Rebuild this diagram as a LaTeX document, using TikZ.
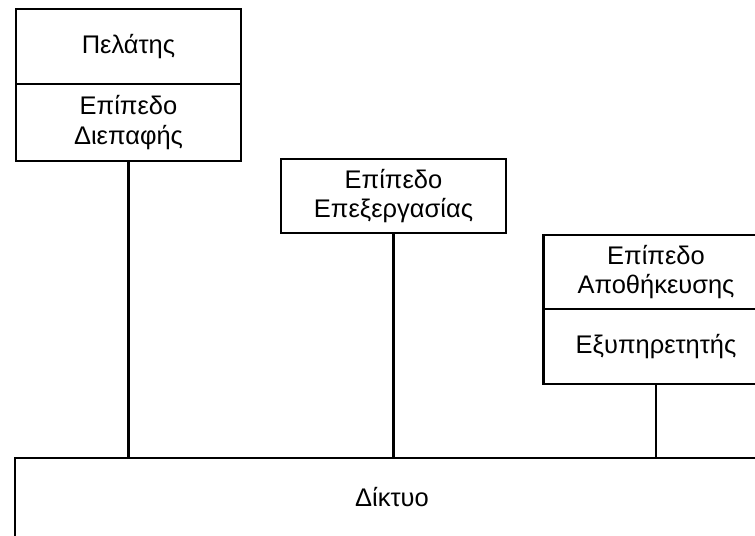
\documentclass[tikz,border=0pt]{standalone}
\usepackage{fontspec}
\setmainfont{Liberation Sans}
\usepackage{tikz}
\usetikzlibrary{positioning}

\begin{document}
\begin{tikzpicture}[
    tierbox/.style={rectangle, draw=black, line width=1.2pt, inner sep=0pt,
                    minimum width=4.5cm, minimum height=1.5cm, align=center,
                    font=\fontsize{14.5}{17}\selectfont},
    link/.style={line width=1.2pt}
]

    \useasboundingbox (0, 0) rectangle (15.1, 10.7);
    \clip (0, 0) rectangle (15.1, 10.7);

    % Client
    \node[tierbox] (client) at (2.57, 9.77) {Πελάτης};
    \node[tierbox, minimum height=1.54cm] (iface) at (2.57, 8.25) {Επίπεδο\\Διεπαφής};

    % Processing
    \node[tierbox, minimum height=1.48cm] (proc) at (7.87, 6.78) {Επίπεδο\\Επεξεργασίας};

    % Storage
    \node[tierbox, minimum height=1.48cm] (store) at (13.12, 5.26) {Επίπεδο\\Αποθήκευσης};
    \node[tierbox] (server) at (13.12, 3.77) {Εξυπηρετητής};

    % Network
    \node[tierbox, draw=none, minimum width=15.04cm, minimum height=1.52cm] (net) at (7.84, 0.76) {Δίκτυο};
    \draw[link] (net.south west) -- (net.north west) -- (net.north east);

    % Links
    \draw[link] (iface.south) -- (iface.south |- net.north);
    \draw[link] (proc.south) -- (proc.south |- net.north);
    \draw[link] (server.south) -- (server.south |- net.north);

\end{tikzpicture}
\end{document}
